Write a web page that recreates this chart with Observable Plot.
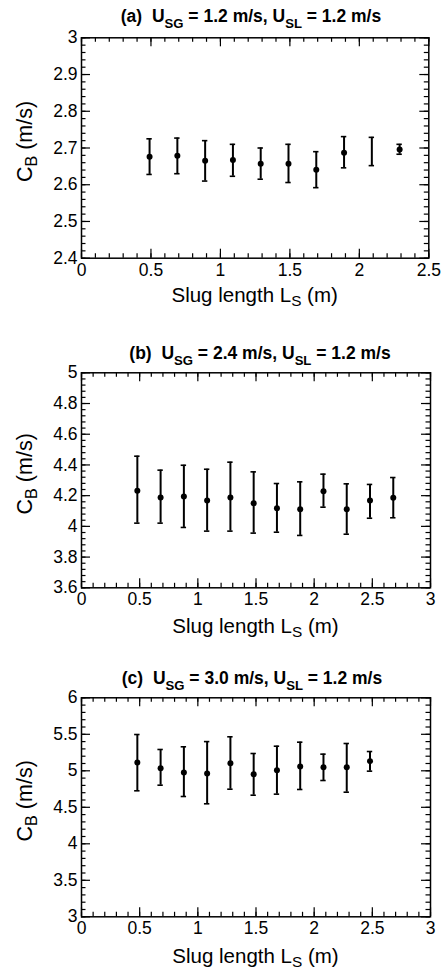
<!DOCTYPE html>
<html><head><meta charset="utf-8">
<script src="https://cdn.jsdelivr.net/npm/d3@7"></script>
<script src="https://cdn.jsdelivr.net/npm/@observablehq/plot@0.6"></script>
<style>
body{margin:0;background:#fff;}
#chart{width:442px;}
#chart svg{display:block;overflow:visible;}
</style></head><body><div id="chart"></div>
<script>
// Panel (a): U_SG = 1.2 m/s, U_SL = 1.2 m/s
const slugLengthA = [0.49,0.69,0.89,1.09,1.29,1.49,1.69,1.89,2.09,2.29];
const cbA     = [2.676,2.679,2.665,2.667,2.657,2.657,2.641,2.687,null,2.696];
const cbLowA  = [2.628,2.630,2.610,2.623,2.615,2.606,2.592,2.646,2.652,2.683];
const cbHighA = [2.725,2.727,2.720,2.710,2.700,2.710,2.690,2.731,2.729,2.710];
const xTicksA = [0,0.5,1,1.5,2,2.5];
const yTicksA = [2.4,2.5,2.6,2.7,2.8,2.9,3];

// Panel (b): U_SG = 2.4 m/s, U_SL = 1.2 m/s
const slugLengthB = [0.48,0.68,0.88,1.08,1.28,1.48,1.68,1.88,2.08,2.28,2.48,2.68];
const cbB     = [4.232,4.188,4.195,4.169,4.188,4.151,4.118,4.112,4.229,4.112,4.169,4.186];
const cbLowB  = [4.021,4.021,3.993,3.969,3.969,3.956,3.962,3.941,4.125,3.949,4.053,4.056];
const cbHighB = [4.457,4.366,4.398,4.372,4.418,4.355,4.279,4.290,4.340,4.277,4.273,4.318];
const xTicksB = [0,0.5,1,1.5,2,2.5,3];
const yTicksB = [3.6,3.8,4,4.2,4.4,4.6,4.8,5];

// Panel (c): U_SG = 3.0 m/s, U_SL = 1.2 m/s
const slugLengthC = [0.48,0.68,0.88,1.08,1.28,1.48,1.68,1.88,2.08,2.28,2.48];
const cbC     = [5.114,5.036,4.977,4.963,5.104,4.953,5.008,5.059,5.050,5.050,5.132];
const cbLowC  = [4.726,4.803,4.648,4.548,4.748,4.666,4.680,4.744,4.867,4.707,4.995];
const cbHighC = [5.497,5.292,5.329,5.400,5.466,5.237,5.337,5.392,5.228,5.374,5.264];
const xTicksC = [0,0.5,1,1.5,2,2.5,3];
const yTicksC = [3,3.5,4,4.5,5,5.5,6];

const FONT = "'Liberation Sans', Arial, Helvetica, sans-serif";
const fmt = d => String(+(+d).toFixed(3));

function minorTicks(lo, hi, step) {
  const n = Math.round((hi - lo) / step);
  return d3.range(n + 1).map(i => +(lo + i * step).toFixed(4));
}

function addText(svg, {x, y, size, weight = "normal", rotate = 0, anchor = "middle", shiftEm = 0.28, parts}) {
  const t = d3.select(svg).append("text")
    .attr("transform", `translate(${x},${y}) rotate(${rotate})`)
    .attr("text-anchor", anchor)
    .attr("font-family", FONT)
    .attr("font-size", size)
    .attr("font-weight", weight)
    .attr("fill", "black")
    .style("white-space", "pre");
  let down = false;
  const shift = size * shiftEm;
  for (const [s, sub] of parts) {
    const ts = t.append("tspan").text(s);
    if (sub) {
      ts.attr("font-size", size * 0.75);
      if (!down) { ts.attr("dy", shift); down = true; }
    } else if (down) {
      ts.attr("dy", -shift); down = false;
    }
  }
}

function panel(cfg) {
  const {xs, ys, lo, hi, xTicks, yTicks, xMinorStep, yMinorStep, height, mt, mb, ml, mr,
         title, titleX, titleY, xLabelY, yLabelX} = cfg;
  const data = xs.map((x, i) => ({x, y: ys[i], lo: lo[i], hi: hi[i]}));
  const xDom = [xTicks[0], xTicks[xTicks.length - 1]];
  const yDom = [yTicks[0], yTicks[yTicks.length - 1]];
  const innerH = height - mt - mb;
  const innerW = 442 - ml - mr;
  const xMin = minorTicks(xDom[0], xDom[1], xMinorStep);
  const yMin = minorTicks(yDom[0], yDom[1], yMinorStep);
  const MAJ = 9, MIN = 4.5;
  const svg = Plot.plot({
    width: 442, height,
    marginTop: mt, marginBottom: mb, marginLeft: ml, marginRight: mr,
    style: {fontFamily: FONT, background: "transparent", color: "black", overflow: "visible"},
    x: {domain: xDom},
    y: {domain: yDom},
    marks: [
      // inward ticks on all four sides
      Plot.tickX(xMin, {x: d => d, insetTop: innerH - MIN, stroke: "black", strokeWidth: 1.2}),
      Plot.tickX(xMin, {x: d => d, insetBottom: innerH - MIN, stroke: "black", strokeWidth: 1.2}),
      Plot.tickX(xTicks, {x: d => d, insetTop: innerH - MAJ, stroke: "black", strokeWidth: 1.2}),
      Plot.tickX(xTicks, {x: d => d, insetBottom: innerH - MAJ, stroke: "black", strokeWidth: 1.2}),
      Plot.tickY(yMin, {y: d => d, insetRight: innerW - MIN, stroke: "black", strokeWidth: 1.2}),
      Plot.tickY(yMin, {y: d => d, insetLeft: innerW - MIN, stroke: "black", strokeWidth: 1.2}),
      Plot.tickY(yTicks, {y: d => d, insetRight: innerW - MAJ, stroke: "black", strokeWidth: 1.2}),
      Plot.tickY(yTicks, {y: d => d, insetLeft: innerW - MAJ, stroke: "black", strokeWidth: 1.2}),
      Plot.frame({stroke: "black", strokeWidth: 1.5}),
      Plot.axisX(xTicks, {tickSize: 0, tickPadding: 5, fontSize: 17.5, label: null, tickFormat: fmt}),
      Plot.axisY(yTicks, {tickSize: 0, tickPadding: 4, fontSize: 17.5, label: null, tickFormat: fmt}),
      // error bars
      Plot.ruleX(data, {x: "x", y1: "lo", y2: "hi", stroke: "black", strokeWidth: 2}),
      Plot.ruleY(data, {y: "lo", x1: "x", x2: "x", insetLeft: -2.7, insetRight: -2.7, stroke: "black", strokeWidth: 1.6}),
      Plot.ruleY(data, {y: "hi", x1: "x", x2: "x", insetLeft: -2.7, insetRight: -2.7, stroke: "black", strokeWidth: 1.6}),
      Plot.dot(data.filter(d => d.y != null), {x: "x", y: "y", r: 3, fill: "black", stroke: "none"})
    ]
  });
  addText(svg, {x: titleX, y: titleY, size: 17.5, weight: "bold", shiftEm: 0.33, parts: title});
  addText(svg, {x: ml + innerW / 2, y: xLabelY, size: 20.5, shiftEm: 0.2,
    parts: [["Slug length L", false], ["S", true], [" (m)", false]]});
  addText(svg, {x: yLabelX, y: mt + innerH / 2 - 6, size: 21.5, rotate: -90, shiftEm: 0.25,
    parts: [["C", false], ["B", true], [" (m/s)", false]]});
  return svg;
}

const chart = document.getElementById("chart");
chart.appendChild(panel({
  xs: slugLengthA, ys: cbA, lo: cbLowA, hi: cbHighA,
  xTicks: xTicksA, yTicks: yTicksA, xMinorStep: 0.1, yMinorStep: 0.02,
  height: 312, mt: 37.3, mb: 54.3, ml: 81, mr: 13.7,
  title: [["(a)  U", false], ["SG", true], [" = 1.2 m/s, U", false], ["SL", true], [" = 1.2 m/s", false]],
  titleX: 251, titleY: 22, xLabelY: 301.5, yLabelX: 32
}));
chart.appendChild(panel({
  xs: slugLengthB, ys: cbB, lo: cbLowB, hi: cbHighB,
  xTicks: xTicksB, yTicks: yTicksB, xMinorStep: 0.1, yMinorStep: 0.04,
  height: 331, mt: 60.3, mb: 55.7, ml: 81, mr: 12,
  title: [["(b)  U", false], ["SG", true], [" = 2.4 m/s, U", false], ["SL", true], [" = 1.2 m/s", false]],
  titleX: 260, titleY: 47.3, xLabelY: 321.3, yLabelX: 32
}));
chart.appendChild(panel({
  xs: slugLengthC, ys: cbC, lo: cbLowC, hi: cbHighC,
  xTicks: xTicksC, yTicks: yTicksC, xMinorStep: 0.1, yMinorStep: 0.1,
  height: 327, mt: 54.3, mb: 53.7, ml: 81, mr: 12,
  title: [["(c)  U", false], ["SG", true], [" = 3.0 m/s, U", false], ["SL", true], [" = 1.2 m/s", false]],
  titleX: 252, titleY: 41.3, xLabelY: 320.3, yLabelX: 32
}));
</script></body></html>
